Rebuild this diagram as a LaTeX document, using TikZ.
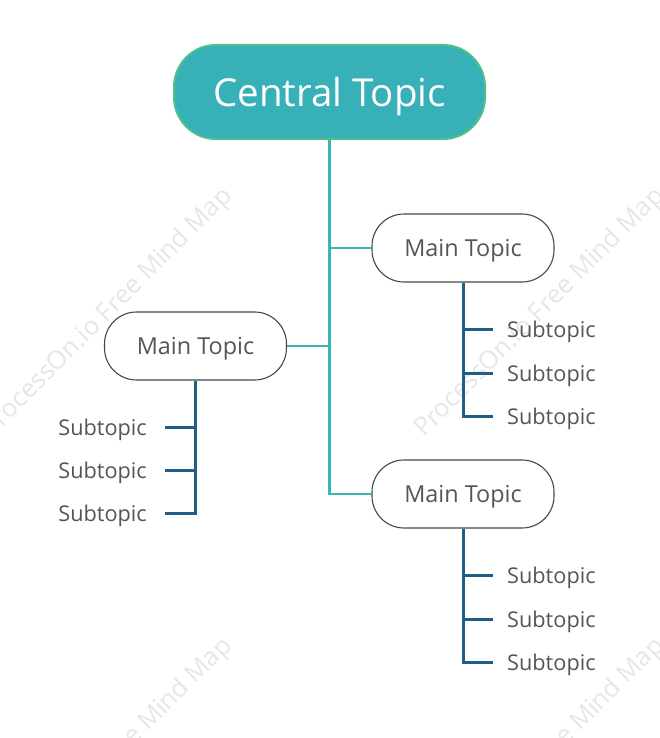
\documentclass[tikz,border=0pt]{standalone}
\usepackage{fontspec}
\setmainfont{Open Sans}
\definecolor{tealfill}{HTML}{38B0B8}
\definecolor{tealborder}{HTML}{4EC08C}
\definecolor{trunk}{HTML}{3BB4BA}
\definecolor{subline}{HTML}{1F5F84}
\definecolor{txtgray}{HTML}{555555}
\definecolor{wm}{HTML}{E6E6E6}
\begin{document}
\begin{tikzpicture}[x=1pt,y=-1pt,
  central/.style={draw=tealborder, line width=2pt, fill=tealfill, rounded corners=42pt,
    minimum width=311pt, minimum height=94pt, inner sep=0pt, text=white, text depth=0pt,
    font=\fontsize{38.5}{44}\selectfont},
  maintopic/.style={draw=black!72, line width=1.1pt, fill=white, rounded corners=32pt,
    minimum width=182pt, minimum height=68pt, inner sep=0pt, text=txtgray, text depth=0pt,
    font=\fontsize{23.4}{28}\selectfont},
  subtopic/.style={inner sep=0pt, text=txtgray, text depth=0pt, font=\fontsize{21.7}{26}\selectfont},
  trunkline/.style={draw=trunk, line width=2.4pt},
  subln/.style={draw=subline, line width=3pt},
  watermark/.style={text=wm, rotate=45, anchor=base west, inner sep=0pt,
    font=\fontsize{25.5}{30}\selectfont}
]
\useasboundingbox (0,0) rectangle (659,738);
\begin{scope}
\clip (0,0) rectangle (659,738);
\node[watermark] (w1) at (-8,438) {ProcessOn.io Free Mind Map};
\node[watermark] (w2) at (424,438) {ProcessOn.io Free Mind Map};
\node[watermark] (w3) at (-8,888) {ProcessOn.io Free Mind Map};
\node[watermark] (w4) at (424,888) {ProcessOn.io Free Mind Map};
\end{scope}

\node[central] (c) at (329.5,92) {Central Topic};
\node[maintopic] (m1) at (463,248) {Main Topic};
\node[maintopic] (m2) at (195.5,346) {Main Topic};
\node[maintopic] (m3) at (463,494) {Main Topic};

% trunk
\draw[trunkline] (c.south) |- (m3.west);
\draw[trunkline] (m1.west) -- (m1.west -| c.south);
\draw[trunkline] (m2.east) -- (m2.east -| c.south);

% subtopics of m1
\node[subtopic, anchor=west] (s11) at (507,329) {Subtopic};
\node[subtopic, anchor=west] (s12) at (507,373) {Subtopic};
\node[subtopic, anchor=west] (s13) at (507,416) {Subtopic};
\draw[subln] (m1.south) |- ([xshift=-14pt]s13.west);
\draw[subln] (m1.south |- s11.west) -- ([xshift=-14pt]s11.west);
\draw[subln] (m1.south |- s12.west) -- ([xshift=-14pt]s12.west);

% subtopics of m2
\node[subtopic, anchor=east] (s21) at (147,427) {Subtopic};
\node[subtopic, anchor=east] (s22) at (147,470) {Subtopic};
\node[subtopic, anchor=east] (s23) at (147,513) {Subtopic};
\draw[subln] (m2.south) |- ([xshift=18pt]s23.east);
\draw[subln] (m2.south |- s21.east) -- ([xshift=18pt]s21.east);
\draw[subln] (m2.south |- s22.east) -- ([xshift=18pt]s22.east);

% subtopics of m3
\node[subtopic, anchor=west] (s31) at (507,575) {Subtopic};
\node[subtopic, anchor=west] (s32) at (507,619) {Subtopic};
\node[subtopic, anchor=west] (s33) at (507,662) {Subtopic};
\draw[subln] (m3.south) |- ([xshift=-14pt]s33.west);
\draw[subln] (m3.south |- s31.west) -- ([xshift=-14pt]s31.west);
\draw[subln] (m3.south |- s32.west) -- ([xshift=-14pt]s32.west);
\end{tikzpicture}
\end{document}
